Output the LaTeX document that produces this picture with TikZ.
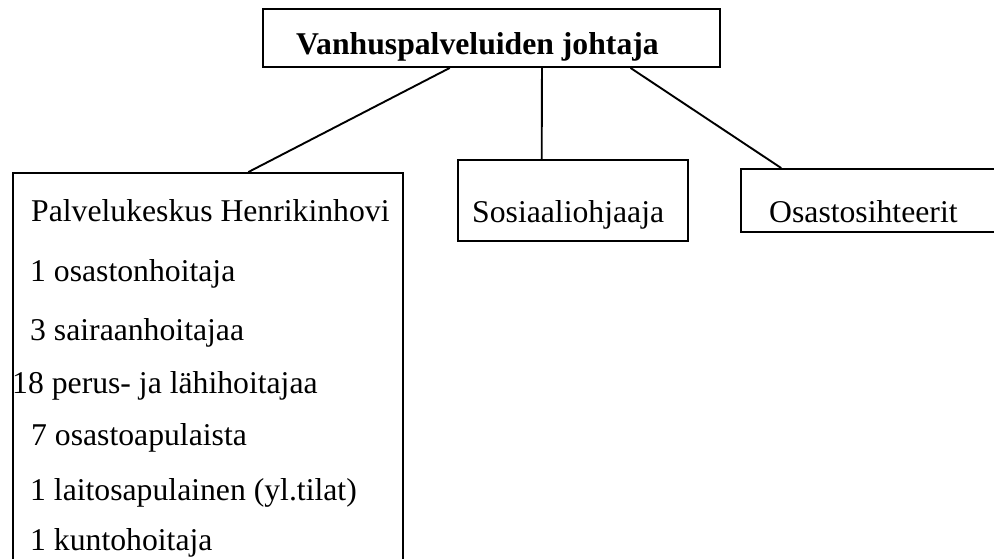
\documentclass[tikz,border=0pt]{standalone}
\usepackage{fontspec}
\setmainfont{Liberation Serif}
\usetikzlibrary{calc}
\tikzset{
  boxnode/.style={draw=black, line width=1.9pt, rectangle, inner sep=0pt},
  txt/.style={inner sep=0pt, anchor=base west, font=\fontsize{31.7}{38}\selectfont},
  conn/.style={draw=black, line width=1.9pt}
}
\begin{document}
\begin{tikzpicture}[x=1pt, y=-1pt]
\useasboundingbox (0,0) rectangle (994,558);
\clip (0,0) rectangle (994,558);
\fill[white] (0,0) rectangle (994,558);
% boxes
\node[boxnode, minimum width=457pt, minimum height=58pt] (top) at (491.5,38) {};
\node[boxnode, minimum width=390pt, minimum height=427pt] (hk) at (208,386.5) {};
\node[boxnode, minimum width=230pt, minimum height=81pt] (sos) at (573,200.5) {};
\node[boxnode, minimum width=269pt, minimum height=63pt] (os) at (875.5,200.5) {};
% texts
\node[txt, font=\fontsize{31.7}{38}\selectfont\bfseries] (ttop) at (296,54) {Vanhuspalveluiden johtaja};
\node[txt] (tsos) at (472,222) {Sosiaaliohjaaja};
\node[txt] (tos) at (769,222) {Osastosihteerit};
\node[txt] (l1) at (31,221) {Palvelukeskus Henrikinhovi};
\node[txt] (l2) at (30,281) {1 osastonhoitaja};
\node[txt] (l3) at (30,340) {3 sairaanhoitajaa};
\node[txt] (l4) at (12,393) {18 perus- ja lähihoitajaa};
\node[txt] (l5) at (31,445) {7 osastoapulaista};
\node[txt] (l6) at (30,500) {1 laitosapulainen (yl.tilat)};
\node[txt] (l7) at (30,550) {1 kuntohoitaja};
% connectors
\draw[conn] ($(top.south west)!0.409!(top.south east)$) -- ($(hk.north west)!0.603!(hk.north east)$);
\draw[conn] ($(top.south west)!0.610!(top.south east)$) -- ($(sos.north west)!0.365!(sos.north east)$);
\draw[conn] ($(top.south west)!0.803!(top.south east)$) -- ($(os.north west)!0.152!(os.north east)$);
\end{tikzpicture}
\end{document}
